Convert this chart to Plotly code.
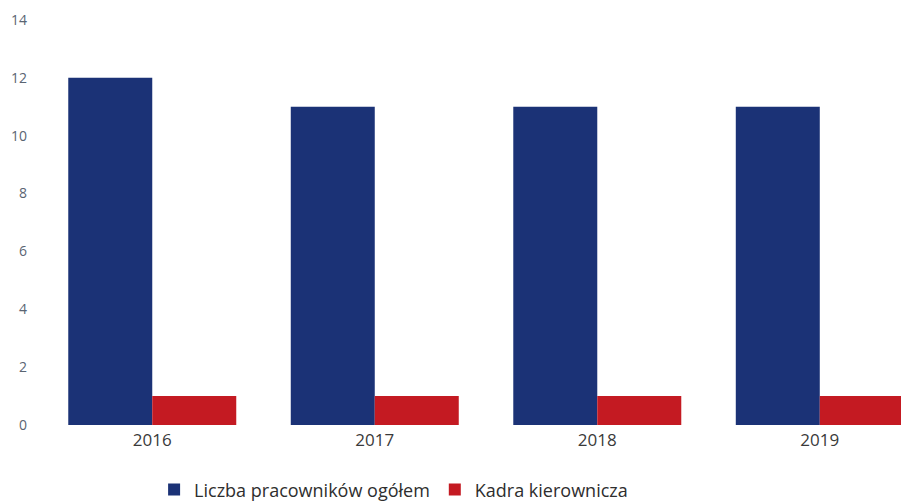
import plotly.graph_objects as go

years = ["2016", "2017", "2018", "2019"]
total_staff = [12, 11, 11, 11]
management = [1, 1, 1, 1]
y_ticks = [0, 2, 4, 6, 8, 10, 12, 14]

fig = go.Figure()
fig.add_trace(go.Bar(
    x=years, y=total_staff, name="Liczba pracowników ogółem",
    marker=dict(color="#1b3276", line=dict(width=0)),
))
fig.add_trace(go.Bar(
    x=years, y=management, name="Kadra kierownicza",
    marker=dict(color="#c41a22", line=dict(width=0)),
))

fig.update_layout(
    width=901, height=503,
    margin=dict(l=41, r=0, t=20, b=78),
    paper_bgcolor="white", plot_bgcolor="white",
    barmode="group", bargap=0.245, bargroupgap=0,
    font=dict(family="Open Sans, sans-serif", size=13, color="#555555"),
    showlegend=True,
    legend=dict(
        orientation="h", x=0.41, xanchor="center",
        yref="container", y=0.026, yanchor="middle",
        font=dict(size=18, color="#2e2e2e"), itemwidth=30,
        traceorder="normal",
    ),
    xaxis=dict(
        type="category", range=[-0.5, 3.365], showgrid=False, zeroline=False,
        showline=False, ticks="", ticklabelstandoff=3,
        tickfont=dict(size=17, color="#3a3a3a"),
    ),
    yaxis=dict(
        range=[0, 14], tickvals=y_ticks, showgrid=False, zeroline=False,
        showline=False, ticks="", ticklabelstandoff=13,
        tickfont=dict(size=14, color="#5a6472"),
    ),
)

fig.write_html("out.html")
